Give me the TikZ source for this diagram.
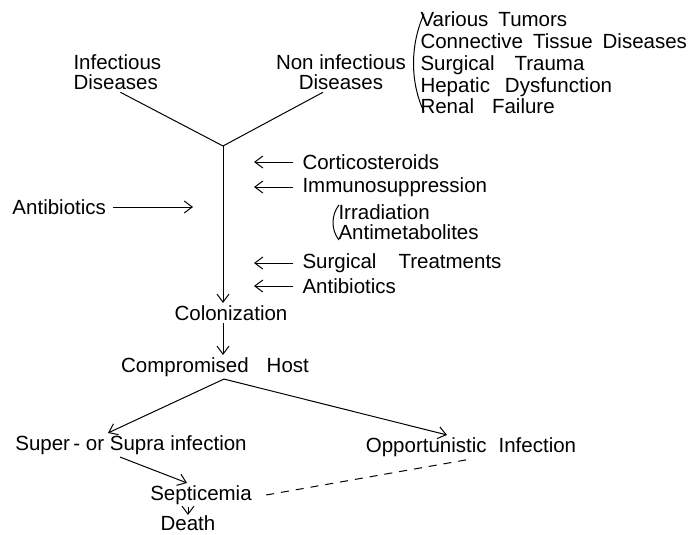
\documentclass[tikz,border=0pt]{standalone}
\usepackage{fontspec}
\setmainfont{Liberation Sans}
\usepackage{tikz}
\usetikzlibrary{arrows.meta}

\begin{document}
\begin{tikzpicture}[x=1pt,y=-1pt,line width=1pt,
    >={Straight Barb[length=8pt,width=12pt]}]%
\tikzstyle{txt} = [inner sep=2pt, font=\fontsize{20.5}{20.5}\selectfont]
\tikzstyle{factor} = [txt, anchor=west]
\tikzstyle{link} = [->, shorten >=0pt]
\useasboundingbox (0,0) rectangle (693,535);

\node[txt, anchor=west, align=left] (inf) at (71,72) {Infectious\\Diseases};
\node[txt, align=center] (noninf) at (341,72) {Non infectious\\Diseases};
\node[txt, anchor=west, align=left, font=\fontsize{20.5}{21.75}\selectfont] (nonlist) at (418,63)
    {Various\hspace{10pt}Tumors\\
     Connective\hspace{10pt}Tissue\hspace{10pt}Diseases\\
     Surgical\hspace{20pt}Trauma\\
     Hepatic\hspace{15pt}Dysfunction\\
     Renal\hspace{18pt}Failure};
\draw (424,14) .. controls (410,45) and (410,82) .. (424,112);

\coordinate (join) at (223,146);
\draw ([xshift=3]inf.south) -- (join);
\draw ([xshift=-18]noninf.south) -- (join);

\node[factor] (cort) at (300,162) {Corticosteroids};
\node[factor] (immuno) at (300,187) {Immunosuppression};
\node[txt, anchor=west, align=left, font=\fontsize{20.5}{20}\selectfont] (immlist) at (336,222)
    {Irradiation\\Antimetabolites};
\draw (339,205) .. controls (331,215) and (331,230) .. (339,240);
\node[factor] (surg) at (300,263) {Surgical\hspace{22pt}Treatments};
\node[factor] (rantib) at (300,286) {Antibiotics};
\foreach \n in {cort,immuno,surg,rantib}
    \draw[link] ([xshift=-7]\n.west) -- ++(-39,0);

\node[factor] (lantib) at (10,207) {Antibiotics};
\coordinate (lhit) at (193,207);
\draw[link] ([xshift=5]lantib.east) -- (lhit);

\node[txt] (colon) at (231,313) {Colonization};
\draw[link] (join) -- (join |- colon.north);

\node[txt] (host) at (215,367) {Compromised\hspace{18pt}Host};
\draw[link] (join |- colon.south) -- (join |- host.north);

\node[txt] (super) at (131,445) {Super\,- or Supra infection};
\node[txt] (opport) at (471,447) {Opportunistic\hspace{12pt}Infection};
\draw[link] ([xshift=9]host.south) -- ([xshift=-23]super.north);
\draw[link] ([xshift=9]host.south) -- ([xshift=-24]opport.north);

\node[txt] (septic) at (201,495) {Septicemia};
\node[txt, inner sep=0pt] (death) at (188,523) {Death};
\draw[link] (death.north |- septic.south) -- (death.north);
\draw[link] ([xshift=-11]super.south) -- ([xshift=-14]septic.north);
\draw[dash pattern=on 8pt off 7pt] ([xshift=12]septic.east) -- (opport.south);
\end{tikzpicture}
\end{document}
